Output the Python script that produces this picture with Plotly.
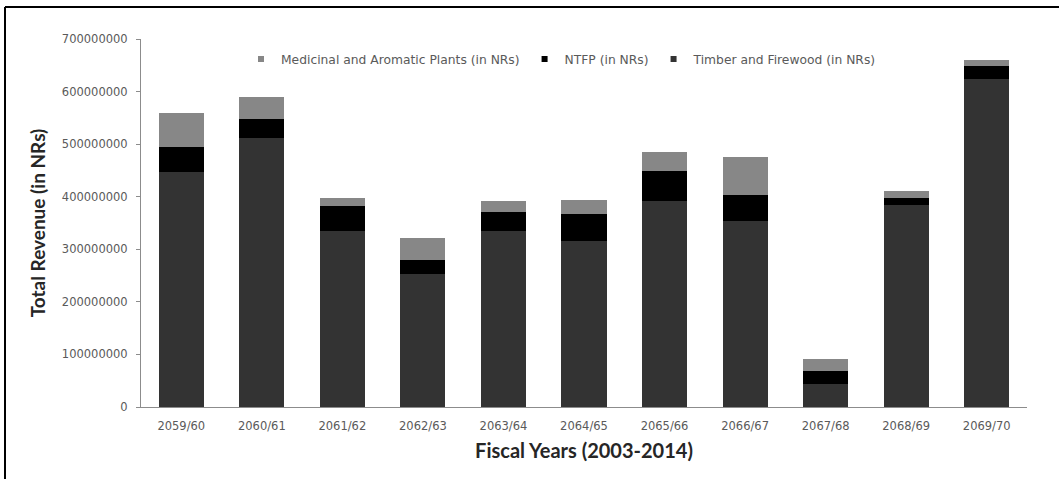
import plotly.graph_objects as go

# Fiscal years (Nepali calendar) and revenue by source, in NRs
years = ["2059/60", "2060/61", "2061/62", "2062/63", "2063/64", "2064/65",
         "2065/66", "2066/67", "2067/68", "2068/69", "2069/70"]
timber_firewood = [447e6, 511e6, 334e6, 253e6, 334e6, 315e6, 391e6, 354e6, 44e6, 385e6, 624e6]
ntfp = [47e6, 37e6, 49e6, 26e6, 37e6, 52e6, 57e6, 50e6, 24e6, 13e6, 25e6]
medicinal_aromatic = [65e6, 42e6, 15e6, 43e6, 20e6, 27e6, 38e6, 71e6, 23e6, 12e6, 11e6]
y_ticks = [0, 100e6, 200e6, 300e6, 400e6, 500e6, 600e6, 700e6]

series = [
    ("Timber and Firewood (in NRs)", timber_firewood, "#333333"),
    ("NTFP (in NRs)", ntfp, "#000000"),
    ("Medicinal and Aromatic Plants (in NRs)", medicinal_aromatic, "#878787"),
]

fig = go.Figure()
for name, vals, color in series:
    fig.add_trace(go.Bar(x=years, y=vals, name=name, marker_color=color,
                         marker_line_width=0, showlegend=False))

# Small square swatches for the legend, listed top segment first
for name, vals, color in reversed(series):
    fig.add_trace(go.Scatter(x=[None], y=[None], mode="markers", name=name,
                             marker=dict(symbol="square", size=6, color=color)))

W, H = 1059, 479
L, R, T, B = 141, 32, 39, 72
pw, ph = W - L - R, H - T - B


def px_x(p):
    return (p - L) / pw


def px_y(p):
    return (H - B - p) / ph


tick_font = dict(family="DejaVu Sans", size=11.5, color="#5a5a5a")

fig.update_layout(
    width=W, height=H,
    margin=dict(l=L, r=R, t=T, b=B),
    paper_bgcolor="white", plot_bgcolor="white",
    barmode="stack", bargap=0.44,
    font=dict(family="DejaVu Sans", color="#595959"),
    legend=dict(orientation="h", x=px_x(241), y=px_y(59), xanchor="left", yanchor="middle",
                traceorder="normal",
                font=dict(family="DejaVu Sans", size=12.3, color="#5a5a5a"),
                bgcolor="rgba(0,0,0,0)", itemwidth=30, tracegroupgap=0),
    xaxis=dict(showline=True, linecolor="#8c8c8c", linewidth=1, ticks="",
               tickfont=tick_font, showgrid=False, ticklabelstandoff=8,
               title=dict(text="<b>Fiscal Years (2003-2014)</b>", standoff=12,
                          font=dict(family="Lato", size=20, color="#262626"))),
    yaxis=dict(range=[0, 700e6], tickvals=y_ticks, tickformat="d",
               showline=True, linecolor="#8c8c8c", linewidth=1,
               ticks="outside", ticklen=4, tickcolor="#8c8c8c", ticklabelstandoff=6,
               tickfont=tick_font, showgrid=False, zeroline=False,
               title=dict(text="<b>Total Revenue (in NRs)</b>", standoff=11,
                          font=dict(family="Lato", size=19, color="#262626"))),
    shapes=[
        dict(type="line", xref="paper", yref="paper", x0=px_x(5), x1=px_x(W),
             y0=px_y(7), y1=px_y(7), line=dict(color="black", width=2)),
        dict(type="line", xref="paper", yref="paper", x0=px_x(5), x1=px_x(5),
             y0=px_y(7), y1=px_y(H), line=dict(color="black", width=2)),
    ],
)

fig.write_html("out.html")
